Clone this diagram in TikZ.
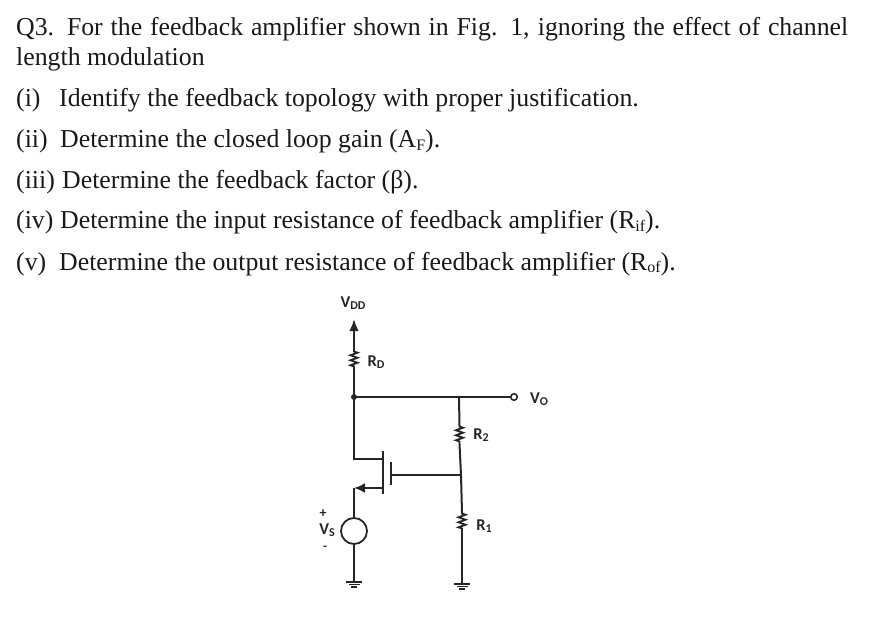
\documentclass[tikz,border=0pt]{standalone}
\usepackage{fontspec}
\setmainfont{Liberation Serif}
\newfontfamily\labfont{Carlito}
\usetikzlibrary{arrows.meta,decorations.pathmorphing}
\newcommand{\qsub}[1]{\raisebox{-2.5pt}{\fontsize{16}{18}\selectfont #1}}
\newcommand{\lsub}[1]{\raisebox{-1.5pt}{\fontsize{12}{14}\selectfont #1}}
\tikzset{
  q/.style={anchor=base west,inner sep=0pt,font=\fontsize{25.8}{30}\selectfont,text=black!90},
  lab/.style={inner sep=0pt,font=\labfont\bfseries\fontsize{16.5}{18}\selectfont,text=black!85},
  wire/.style={line width=2pt,black!85},
  res/.style={line width=1.8pt,black!85,decorate,decoration={zigzag,segment length=5pt,amplitude=3.6pt,pre length=0.5pt,post length=0.5pt}},
  gnd/.pic={
    \draw[line width=1.8pt,black!85] (-8,0) -- (8,0);
    \draw[line width=1.8pt,black!85] (-5.5,2.5) -- (5.5,2.5);
    \draw[line width=2pt,black!85] (-3,5) -- (3,5);
  }
}
\begin{document}
\begin{tikzpicture}[x=1pt,y=-1pt]
\useasboundingbox (0,0) rectangle (874,617);
% question text
\node[q] (l1) at (16,36) {\makebox[832pt][s]{Q3. For the feedback amplifier shown in Fig. 1, ignoring the effect of channel}};
\node[q] (l2) at (16,66) {length modulation};
\node[q] (i1) at (16,107) {(i)};
\node[q] (t1) at (59,107) {Identify the feedback topology with proper justification.};
\node[q] (i2) at (16,148) {(ii)};
\node[q] (t2) at (60,148) {Determine the closed loop gain (A\qsub{F}).};
\node[q] (i3) at (16,189) {(iii)};
\node[q] (t3) at (62,189) {Determine the feedback factor (β).};
\node[q] (i4) at (16,229) {(iv)};
\node[q] (t4) at (60,229) {Determine the input resistance of feedback amplifier (R\qsub{if}).};
\node[q] (i5) at (16,270) {(v)};
\node[q] (t5) at (59,270) {Determine the output resistance of feedback amplifier (R\qsub{of}).};
% circuit points
\coordinate (vdd) at (354,319);
\coordinate (rdt) at (354,351);
\coordinate (rdb) at (354,369);
\coordinate (d) at (354,397);
\coordinate (fb) at (459,397);
\node[circle,draw,line width=1.6pt,black!85,fill=white,minimum size=6.5pt,inner sep=0pt] (out) at (514,397) {};
\coordinate (r2t) at (459.5,426);
\coordinate (r2b) at (459.5,444);
\coordinate (gn) at (461,475);
\coordinate (r1t) at (462,513);
\coordinate (r1b) at (462,530);
\coordinate (g1) at (462,584);
\coordinate (dc) at (354,459);
\coordinate (dm) at (383,459);
\coordinate (sm) at (383,488);
\coordinate (sc) at (354,488);
\coordinate (chT) at (383,451);
\coordinate (chB) at (383,494);
\coordinate (gT) at (391,462);
\coordinate (gB) at (391,485);
\coordinate (gm) at (391,475);
\node[circle,draw,line width=1.8pt,black!85,minimum size=26pt,inner sep=0pt] (vs) at (354,531) {};
\coordinate (g2) at (354,582);
% wires
\draw[wire,-{Latex[length=12pt,width=9.5pt]}] (rdt) -- (vdd);
\draw[res] (rdt) -- (rdb);
\draw[wire] (rdb) -- (d) -- (dc) -- (dm);
\draw[wire] (d) -- (out);
\fill[black!85] (d) circle (3pt);
\draw[wire] (fb) -- (r2t);
\draw[res] (r2t) -- (r2b);
\draw[wire] (r2b) -- (gn) -- (r1t);
\draw[res] (r1t) -- (r1b);
\draw[wire] (r1b) -- (g1);
\draw[wire] (gm) -- (gn);
\draw[wire] (chT) -- (chB);
\draw[wire] (gT) -- (gB);
\draw[wire,-{Latex[length=11pt,width=10pt]}] (sm) -- (sc);
\draw[wire] (sc) -- (vs);
\draw[wire] (vs) -- (g2);
\pic at (g2) {gnd};
\pic at (g1) {gnd};
% labels
\node[lab] (lvdd) at (353,303) {V\lsub{DD}};
\node[lab] (lrd) at (376,362) {R\lsub{D}};
\node[lab] (lvo) at (539,399) {V\lsub{O}};
\node[lab] (lr2) at (481,435) {R\lsub{2}};
\node[lab] (lr1) at (484,526) {R\lsub{1}};
\node[lab] (lvs) at (327,530) {V\lsub{S}};
\node[lab,font=\labfont\bfseries\fontsize{14}{16}\selectfont] (lp) at (323,514) {+};
\node[lab,font=\labfont\bfseries\fontsize{13}{15}\selectfont] (lm) at (325,548) {-};
\end{tikzpicture}
\end{document}
